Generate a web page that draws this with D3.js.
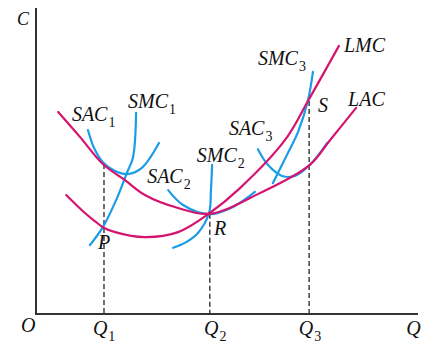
<!DOCTYPE html>
<html>
<head>
<meta charset="utf-8">
<script src="https://cdn.jsdelivr.net/npm/d3@7"></script>
<style>
  body { margin: 0; background: #fff; }
  text { font-family: "Liberation Serif", "Times New Roman", serif; font-style: italic; fill: #111; }
</style>
</head>
<body>
<svg width="442" height="354"></svg>
<script>
// curves in (Q, C) units
const LAC  = [[0.58,5.28],[1.15,4.63],[1.75,3.92],[2.33,3.50],[2.85,3.11],[3.72,2.77],[4.55,2.62],[5.86,3.16],[7.17,3.90],[7.70,4.55],[8.38,5.39]];
const LMC  = [[0.79,3.11],[1.28,2.64],[1.54,2.43],[1.75,2.27],[2.07,2.14],[2.85,2.01],[3.72,2.14],[4.55,2.64],[5.34,3.29],[6.52,4.55],[7.12,5.57],[7.93,7.01]];
const SAC1 = [[1.36,4.81],[1.52,4.34],[1.75,3.97],[2.07,3.74],[2.41,3.66],[2.77,3.82],[3.22,4.47]];
const SMC1 = [[2.62,5.26],[2.54,4.10],[2.38,3.69],[2.12,3.03],[1.75,2.27],[1.41,1.80]];
const SAC2 = [[3.46,3.24],[3.85,2.85],[4.53,2.61],[5.16,2.80],[5.73,3.19]];
const SMC2 = [[4.61,3.90],[4.58,3.24],[4.53,2.64],[4.24,2.12],[3.93,1.88],[3.59,1.73]];
const SAC3 = [[5.81,4.31],[6.07,3.90],[6.44,3.61],[6.78,3.61],[7.17,3.90],[7.62,4.47]];
const SMC3 = [[7.25,6.33],[7.12,5.59],[6.86,4.76],[6.57,4.16],[6.20,3.42]];

// vertical guides: Q value and the cost where they stop
const guides = [[1.78,3.92],[4.55,2.62],[7.15,5.57]];

const svg = d3.select("svg");
const x = d3.scaleLinear().domain([0, 10]).range([36, 418]);
const y = d3.scaleLinear().domain([0, 8]).range([314, 8]);

const magenta = "#d6146f";
const blue = "#1b9ce8";

const line = d3.line()
    .x(d => x(d[0]))
    .y(d => y(d[1]))
    .curve(d3.curveCatmullRom.alpha(0.5));

// dashed guides
svg.selectAll(".guide").data(guides)
  .enter().append("line")
    .attr("x1", d => x(d[0])).attr("x2", d => x(d[0]))
    .attr("y1", d => y(d[1])).attr("y2", y(0))
    .attr("stroke", "#222")
    .attr("stroke-width", 1.3)
    .attr("stroke-dasharray", "5,3");

const curves = [
  [SAC1, blue], [SMC1, blue], [SAC2, blue], [SMC2, blue], [SAC3, blue], [SMC3, blue],
  [LAC, magenta], [LMC, magenta]
];
svg.selectAll(".curve").data(curves)
  .enter().append("path")
    .attr("d", d => line(d[0]))
    .attr("fill", "none")
    .attr("stroke", d => d[1])
    .attr("stroke-width", 2.2)
    .attr("stroke-linecap", "round");

// axes
svg.append("path")
    .attr("d", `M${x(0)},${y(8)}V${y(0)}H${x(10)}`)
    .attr("fill", "none")
    .attr("stroke", "#333")
    .attr("stroke-width", 2);

// labels [main, subscript, Q, C]
const labels = [
  ["SAC", "1", 0.94, 5.05], ["SMC", "1", 2.41, 5.39],
  ["SAC", "2", 2.91, 3.42], ["SMC", "2", 4.21, 3.97],
  ["SAC", "3", 5.05, 4.68], ["SMC", "3", 5.81, 6.51],
  ["LMC", "", 8.06, 6.85], ["LAC", "", 8.17, 5.44],
  ["S", "", 7.38, 5.28], ["P", "", 1.62, 1.70], ["R", "", 4.66, 2.07],
  ["Q", "1", 1.49, -0.55], ["Q", "2", 4.40, -0.55], ["Q", "3", 6.88, -0.55],
  ["Q", "", 9.69, -0.55], ["O", "", -0.39, -0.47]
];
const t = svg.selectAll(".lab").data(labels)
  .enter().append("text")
    .attr("x", d => x(d[2]))
    .attr("y", d => y(d[3]))
    .attr("font-size", 20);
t.append("tspan").text(d => d[0]);
t.append("tspan")
    .attr("dy", 6)
    .attr("dx", 1)
    .attr("font-size", 14)
    .attr("font-style", "normal")
    .text(d => d[1]);

svg.append("text")
    .attr("x", 17).attr("y", y(7.55))
    .attr("font-size", 18)
    .text("C");
</script>
</body>
</html>
